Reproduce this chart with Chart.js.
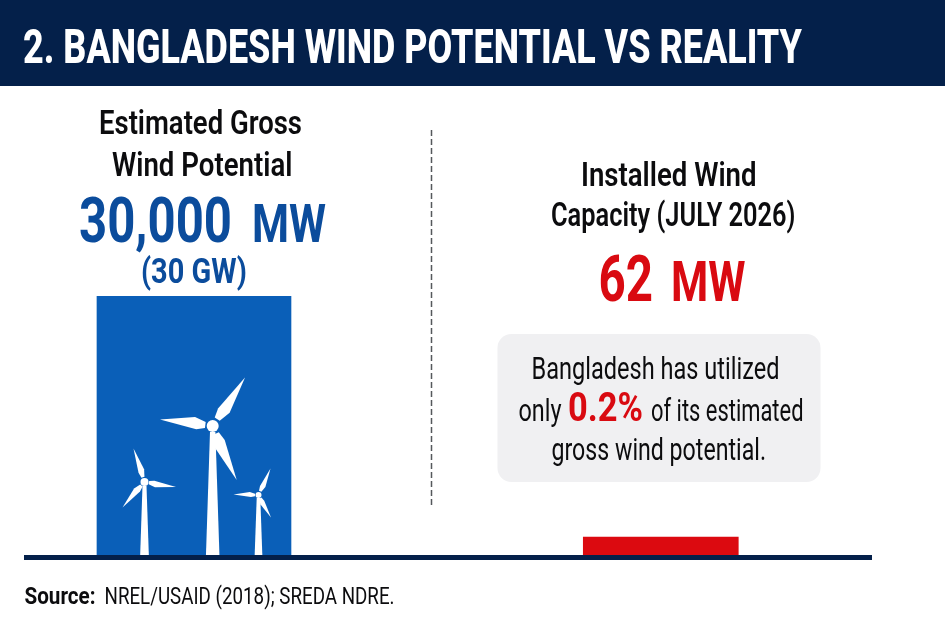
<!DOCTYPE html>
<html>
<head>
<meta charset="utf-8">
<title>Bangladesh wind potential vs reality</title>
<script src="https://cdn.jsdelivr.net/npm/chart.js@4"></script>
<style>
  html, body { margin: 0; padding: 0; background: #fff; }
  canvas { display: block; }
</style>
</head>
<body>
<canvas id="windChart" width="945" height="630"></canvas>
<script>
const categories = ["Estimated Gross Wind Potential", "Installed Wind Capacity"];
const capacityMW = [30000, 62];
const barColors = ["#0a5fb8", "#dc0a10"];
const barWidths = [194, 155];

const NAVY = "#04204a";
const BLUE = "#0b4c9c";
const RED = "#d90a11";
const INK = "#0c0c0e";

// text is squeezed to a set width, there is no condensed face installed
function label(ctx, str, x, y, w, font, color) {
  ctx.save();
  ctx.font = font;
  ctx.fillStyle = color;
  ctx.textAlign = "left";
  ctx.textBaseline = "alphabetic";
  ctx.translate(x, y);
  ctx.scale(w / ctx.measureText(str).width, 1);
  ctx.fillText(str, 0, 0);
  ctx.restore();
}

function blade(ctx, hx, hy, tx, ty, wide) {
  const dx = tx - hx;
  const dy = ty - hy;
  const nx = -dy / Math.hypot(dx, dy);
  const ny = dx / Math.hypot(dx, dy);
  const at = (t, s) => [hx + dx * t + nx * s, hy + dy * t + ny * s];
  ctx.beginPath();
  ctx.moveTo(...at(0.14, -wide * 0.2));
  ctx.lineTo(...at(0.3, -wide * 0.35));
  ctx.lineTo(...at(1, 0));
  ctx.lineTo(...at(0.35, wide * 0.45));
  ctx.lineTo(...at(0.14, wide * 0.2));
  ctx.closePath();
  ctx.fill();
}

function turbine(ctx, t) {
  ctx.fillStyle = "#fff";
  ctx.beginPath();
  ctx.moveTo(t.x - t.top, t.y + t.r);
  ctx.lineTo(t.x + t.top, t.y + t.r);
  ctx.lineTo(t.x + t.foot, t.ground);
  ctx.lineTo(t.x - t.foot, t.ground);
  ctx.closePath();
  ctx.fill();
  t.tips.forEach((tip) => blade(ctx, t.x, t.y, tip[0], tip[1], t.wide));
  ctx.beginPath();
  ctx.arc(t.x, t.y, t.r, 0, Math.PI * 2);
  ctx.fill();
}

const backdrop = {
  id: "backdrop",
  beforeDraw(chart) {
    const ctx = chart.ctx;
    ctx.save();
    ctx.fillStyle = NAVY;
    ctx.fillRect(0, 0, chart.width, 86);
    ctx.fillStyle = "#f0f0f2";
    ctx.beginPath();
    ctx.roundRect(497.5, 334, 323, 148, 14);
    ctx.fill();
    ctx.strokeStyle = "#55585c";
    ctx.lineWidth = 1.5;
    ctx.setLineDash([6, 3]);
    ctx.beginPath();
    ctx.moveTo(431.5, 130);
    ctx.lineTo(431.5, 505);
    ctx.stroke();
    ctx.restore();
  },
};

const turbines = {
  id: "turbines",
  afterDatasetsDraw(chart) {
    const ctx = chart.ctx;
    ctx.save();
    turbine(ctx, { x: 212.7, y: 426, r: 6, top: 2.7, foot: 6.8, ground: 557, wide: 15,
      tips: [[245, 377.5], [160, 419.5], [236.7, 480]] });
    turbine(ctx, { x: 144.5, y: 482, r: 4, top: 2, foot: 4.4, ground: 557, wide: 8,
      tips: [[133.5, 448.5], [176, 487], [122.5, 507.5]] });
    turbine(ctx, { x: 258.5, y: 495, r: 3, top: 1.8, foot: 3.9, ground: 557, wide: 6.5,
      tips: [[270.5, 468.5], [233.5, 494.5], [271, 517.5]] });
    ctx.restore();
  },
};

const captions = {
  id: "captions",
  afterDraw(chart) {
    const ctx = chart.ctx;
    const bold = (size) => `700 ${size}px Roboto, sans-serif`;
    const heavy = (size) => `800 ${size}px Roboto, sans-serif`;
    const medium = (size) => `600 ${size}px Roboto, sans-serif`;
    const plain = (size) => `400 ${size}px Roboto, sans-serif`;

    label(ctx, "2. BANGLADESH WIND POTENTIAL VS REALITY", 23, 63, 779, heavy(49), "#fff");

    label(ctx, "Estimated Gross", 99, 134, 203, medium(33), INK);
    label(ctx, "Wind Potential", 112, 175.5, 180.5, medium(33), INK);
    label(ctx, "30,000", 79, 241.5, 153, bold(63), BLUE);
    label(ctx, "MW", 252, 241.5, 74, bold(53), BLUE);
    label(ctx, "(30 GW)", 141, 283, 106, bold(35), BLUE);

    label(ctx, "Installed Wind", 581, 185.5, 175.5, medium(33), INK);
    label(ctx, "Capacity (JULY 2026)", 551, 225.5, 244.5, medium(33), INK);
    label(ctx, "62", 598.5, 300.5, 54.5, bold(65), RED);
    label(ctx, "MW", 671, 300.5, 74.5, bold(55), RED);

    label(ctx, "Bangladesh has utilized", 531.5, 378.5, 248, plain(31), INK);
    label(ctx, "only", 518.5, 420.5, 43, plain(31), INK);
    label(ctx, "0.2%", 568, 420.5, 75, bold(40), RED);
    label(ctx, "of its estimated", 651, 420.5, 152.5, plain(31), INK);
    label(ctx, "gross wind potential.", 551.5, 459.5, 214.5, plain(31), INK);

    label(ctx, "Source:", 24.5, 603.5, 71, bold(23), INK);
    label(ctx, "NREL/USAID (2018); SREDA NDRE.", 104.5, 603.5, 290, plain(23), INK);
  },
};

new Chart(document.getElementById("windChart"), {
  type: "bar",
  data: {
    datasets: categories.map((name, i) => ({
      label: name,
      data: [{ x: i, y: capacityMW[i] }],
      backgroundColor: barColors[i],
      barThickness: barWidths[i],
      // 62 MW would be under a pixel on this axis
      minBarLength: 20,
      grouped: false,
    })),
  },
  options: {
    responsive: false,
    animation: false,
    events: [],
    layout: { padding: { top: 296, left: 26.5, right: 73.5, bottom: 73 } },
    plugins: { legend: { display: false }, tooltip: { enabled: false } },
    scales: {
      x: {
        type: "linear",
        offset: false,
        min: -0.3588,
        max: 1.4514,
        ticks: { display: false },
        grid: { display: false, drawTicks: false },
        border: { display: true, color: NAVY, width: 5, z: 1 },
      },
      y: {
        display: false,
        min: 0,
        max: 30000,
      },
    },
  },
  plugins: [backdrop, turbines, captions],
});
</script>
</body>
</html>
